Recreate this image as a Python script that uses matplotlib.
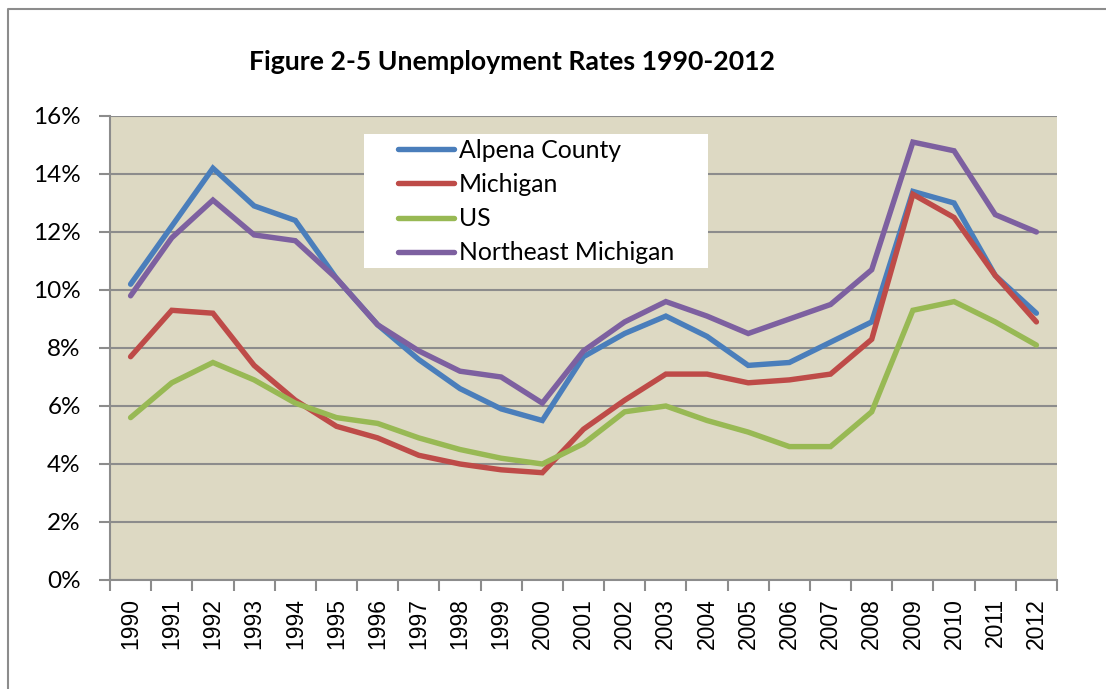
"""Figure 2-5: unemployment rates 1990-2012, Excel-style line chart."""

import matplotlib
matplotlib.use("Agg")
import matplotlib.pyplot as plt
from matplotlib.lines import Line2D
from matplotlib.patches import Rectangle
from matplotlib.ticker import FixedLocator, FuncFormatter

years = [str(y) for y in range(1990, 2013)]

alpena = [10.2, 12.2, 14.2, 12.9, 12.4, 10.4, 8.8, 7.6, 6.6, 5.9, 5.5, 7.7,
          8.5, 9.1, 8.4, 7.4, 7.5, 8.2, 8.9, 13.4, 13.0, 10.5, 9.2]
michigan = [7.7, 9.3, 9.2, 7.4, 6.2, 5.3, 4.9, 4.3, 4.0, 3.8, 3.7, 5.2,
            6.2, 7.1, 7.1, 6.8, 6.9, 7.1, 8.3, 13.3, 12.5, 10.5, 8.9]
us = [5.6, 6.8, 7.5, 6.9, 6.1, 5.6, 5.4, 4.9, 4.5, 4.2, 4.0, 4.7,
      5.8, 6.0, 5.5, 5.1, 4.6, 4.6, 5.8, 9.3, 9.6, 8.9, 8.1]
ne_michigan = [9.8, 11.8, 13.1, 11.9, 11.7, 10.4, 8.8, 7.9, 7.2, 7.0, 6.1, 7.9,
               8.9, 9.6, 9.1, 8.5, 9.0, 9.5, 10.7, 15.1, 14.8, 12.6, 12.0]

series = [
    ("Alpena County", alpena, "#4A7EBB"),
    ("Michigan", michigan, "#BE4B48"),
    ("US", us, "#98B954"),
    ("Northeast Michigan", ne_michigan, "#7D60A0"),
]

GRID = "#8C8C8C"
BODY_FONT = ["Lato", "DejaVu Sans"]

W, H = 1106, 689
fig = plt.figure(figsize=(W / 100, H / 100), dpi=100)

# outer chart border (left and top only visible in the crop)
fig.add_artist(Line2D([8 / W, 8 / W, 1.0], [0.0, 1 - 9 / H, 1 - 9 / H],
                      color=GRID, lw=1.5, transform=fig.transFigure))

ax = fig.add_axes([110 / W, 1 - 580 / H, 947 / W, 464 / H])
ax.set_facecolor("#DDD9C3")

x = list(range(len(years)))
for name, vals, col in series:
    ax.plot(x, vals, color=col, lw=3.9, label=name, solid_capstyle="round",
            solid_joinstyle="miter", zorder=3)

ax.set_xlim(-0.5, len(years) - 0.5)
ax.set_ylim(0, 16)

ax.set_yticks(range(0, 17, 2))
ax.yaxis.set_major_formatter(FuncFormatter(lambda v, _: f"{v:.0f}%"))
ax.grid(axis="y", color=GRID, lw=1.5, zorder=1)
ax.set_axisbelow(True)

ax.set_xticks(x)
ax.set_xticklabels(years, rotation=90, fontsize=16.5, family="Liberation Sans")
ax.xaxis.set_minor_locator(FixedLocator([i - 0.5 for i in range(len(years) + 1)]))
ax.tick_params(axis="x", which="major", length=0, pad=13)
ax.tick_params(axis="x", which="minor", length=8, width=1.5, color=GRID)
ax.tick_params(axis="y", length=8, width=1.5, color=GRID, pad=13)
for lbl in ax.get_yticklabels():
    lbl.set_fontsize(17.5)
    lbl.set_family(BODY_FONT)

for side in ("top", "right"):
    ax.spines[side].set_visible(False)
for side in ("left", "bottom"):
    ax.spines[side].set_color(GRID)
    ax.spines[side].set_linewidth(1.5)

fig.text(512 / W, 1 - 62 / H, "Figure 2-5 Unemployment Rates 1990-2012",
         ha="center", va="center", fontsize=19.2, fontweight="bold", family=BODY_FONT)

# white legend box, then a frameless legend on top of it
ax.add_patch(Rectangle((364 / W, 1 - 268 / H), 344 / W, 134 / H,
                       transform=fig.transFigure, facecolor="white",
                       edgecolor="none", zorder=4, clip_on=False))
leg = ax.legend(loc="upper left", bbox_to_anchor=(398 / W, 1 - 139 / H),
                bbox_transform=fig.transFigure, frameon=False,
                prop={"family": BODY_FONT, "size": 17.8}, handlelength=2.25,
                handletextpad=0.2, labelspacing=0.45, borderpad=0,
                borderaxespad=0)
leg.set_zorder(5)

fig.savefig("out.png", dpi=100, facecolor="white")
